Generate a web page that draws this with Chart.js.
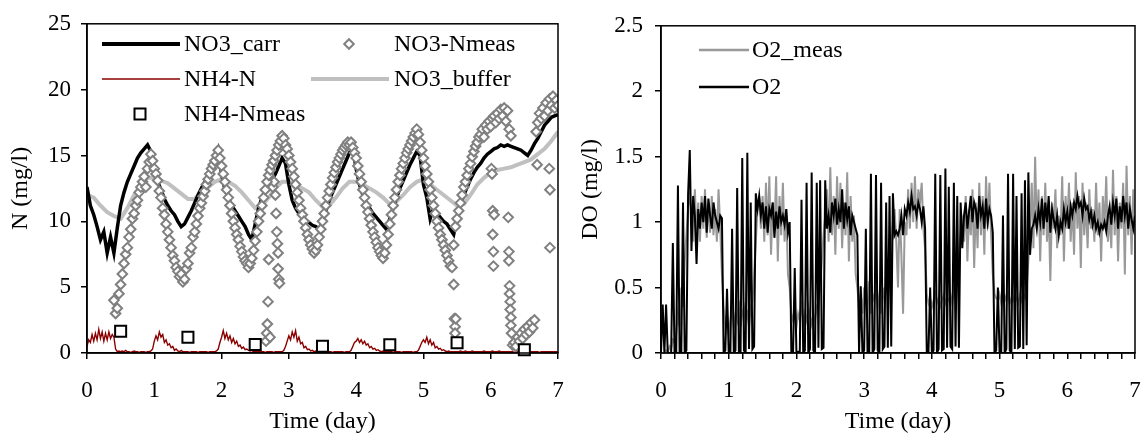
<!DOCTYPE html>
<html>
<head>
<meta charset="utf-8">
<script src="https://cdn.jsdelivr.net/npm/chart.js@4.4.1/dist/chart.umd.min.js"></script>
<style>
  body { margin: 0; background: #fff; }
  #wrap { position: relative; width: 1141px; height: 436px; }
  canvas { position: absolute; top: 0; }
  #left { left: 0; }
  #right { left: 570px; }
</style>
</head>
<body>
<div id="wrap">
  <canvas id="left" width="570" height="436"></canvas>
  <canvas id="right" width="571" height="436"></canvas>
</div>
<script>
// sampling steps (days) of the logged series
var fineStep = 0.025;
var carrStep = 0.05;
var bufferStep = 0.1;

// NO3 in the carrier, every 0.05 day
var no3Carr = [
  12.6, 11.2, 10.5, 9.6, 8.6, 9.2, 7.6, 8.8, 7.6, 9.5, 11.2, 12.2, 13.0, 13.6, 14.2, 14.8, 15.2, 15.5, 15.8, 15.3,
  13.8, 13.0, 12.4, 11.7, 11.2, 10.8, 10.5, 10.0, 9.6, 9.8, 10.3, 10.8, 11.4, 12.0, 12.5, 13.0, 13.4, 14.0, 14.6, 15.4,
  13.6, 12.4, 11.8, 11.2, 10.8, 10.4, 10.0, 9.6, 9.0, 8.6, 9.8, 11.0, 11.8, 12.4, 12.9, 13.2, 13.6, 14.2, 14.8, 14.4,
  12.8, 11.6, 11.0, 10.6, 10.3, 10.1, 9.9, 9.7, 9.6, 9.4, 10.0, 10.8, 11.6, 12.2, 12.8, 13.4, 14.0, 14.6, 15.2, 15.6,
  14.0, 12.8, 12.0, 11.4, 11.0, 10.6, 10.3, 10.0, 9.7, 9.4, 10.2, 11.0, 11.8, 12.5, 13.1, 13.7, 14.3, 14.8, 15.3, 15.0,
  12.8, 11.8, 10.2, 11.0, 10.6, 10.3, 10.0, 9.8, 9.4, 9.0, 10.2, 11.2, 12.0, 12.6, 13.2, 13.7, 14.1, 14.4, 14.8, 15.1,
  15.3, 15.5, 15.6, 15.8, 15.7, 15.8, 15.7, 15.6, 15.5, 15.4, 15.2, 15.0, 15.4, 15.9, 16.3, 16.8, 17.3, 17.6, 17.9, 18.0,
  18.1
];

// NO3 in the buffer tank, every 0.1 day
var no3Buffer = [
  12.0, 11.8, 11.2, 10.7, 10.4, 10.2, 11.0, 12.0, 12.8, 13.3,
  13.3, 13.1, 12.9, 12.5, 12.1, 11.7, 11.7, 12.2, 12.6, 13.0,
  13.2, 13.0, 12.7, 12.2, 11.6, 11.0, 11.2, 11.8, 12.5, 13.0,
  13.0, 12.8, 12.5, 12.2, 11.6, 11.1, 11.2, 11.8, 12.5, 13.0,
  13.0, 12.8, 12.5, 12.2, 11.8, 11.3, 11.5, 12.0, 12.6, 13.0,
  13.2, 12.8, 12.4, 12.0, 11.6, 11.2, 11.3, 12.0, 12.8, 13.3,
  13.7, 13.9, 14.0, 14.1, 14.3, 14.5, 14.7, 15.1, 15.5, 16.1,
  16.8
];

// NH4-N simulated, every 0.025 day
var nh4N = [
  0.5, 1.0, 0.8, 1.4, 0.9, 1.5, 1.0, 1.8, 1.1, 1.6, 0.9, 1.5, 1.0, 1.6, 1.1, 1.4, 1.2, 0.3, 0.1, 0.15,
  0.1, 0.15, 0.1, 0.2, 0.1, 0.1, 0.05, 0.1, 0.15, 0.1, 0.1, 0.05, 0.1, 0.1, 0.1, 0.05, 0.1, 0.1, 0.15, 0.3,
  0.9, 1.3, 1.0, 1.6, 1.2, 1.4, 0.8, 1.0, 0.6, 0.7, 0.4, 0.5, 0.2, 0.3, 0.15, 0.1, 0.2, 0.1, 0.1, 0.1,
  0.1, 0.05, 0.1, 0.1, 0.1, 0.1, 0.05, 0.1, 0.1, 0.1, 0.1, 0.1, 0.05, 0.1, 0.1, 0.1, 0.1, 0.15, 0.3, 0.8,
  1.2, 1.7, 1.1, 1.5, 1.0, 1.3, 0.8, 1.1, 0.7, 0.9, 0.5, 0.6, 0.35, 0.45, 0.25, 0.3, 0.2, 0.15, 0.2, 0.1,
  0.15, 0.1, 0.1, 0.15, 0.1, 0.1, 0.05, 0.1, 0.1, 0.1, 0.1, 0.05, 0.1, 0.1, 0.1, 0.1, 0.1, 0.2, 0.5, 0.9,
  1.3, 1.0, 1.6, 1.2, 1.7, 0.9, 1.2, 0.7, 0.8, 0.4, 0.5, 0.25, 0.3, 0.15, 0.2, 0.1, 0.15, 0.1, 0.1, 0.1,
  0.1, 0.05, 0.1, 0.1, 0.1, 0.1, 0.05, 0.1, 0.1, 0.1, 0.1, 0.1, 0.1, 0.05, 0.1, 0.1, 0.1, 0.2, 0.5, 0.8,
  0.9, 1.1, 0.8, 1.0, 0.7, 0.9, 0.6, 0.7, 0.4, 0.5, 0.3, 0.35, 0.2, 0.25, 0.15, 0.1, 0.15, 0.1, 0.1, 0.1,
  0.1, 0.1, 0.05, 0.1, 0.1, 0.1, 0.1, 0.05, 0.1, 0.1, 0.1, 0.1, 0.1, 0.1, 0.05, 0.1, 0.1, 0.2, 0.5, 0.8,
  1.0, 0.8, 1.2, 0.7, 1.0, 0.6, 0.8, 0.4, 0.5, 0.3, 0.35, 0.2, 0.25, 0.15, 0.1, 0.15, 0.1, 0.1, 0.1, 0.1,
  0.1, 0.1, 0.15, 0.1, 0.1, 0.15, 0.1, 0.1, 0.1, 0.15, 0.1, 0.1, 0.1, 0.1, 0.1, 0.1, 0.15, 0.1, 0.1, 0.1,
  0.1, 0.15, 0.1, 0.1, 0.1, 0.15, 0.1, 0.1, 0.1, 0.1, 0.1, 0.1, 0.1, 0.1, 0.05, 0.1, 0.1, 0.1, 0.1, 0.1,
  0.1, 0.1, 0.1, 0.05, 0.1, 0.1, 0.1, 0.1, 0.1, 0.05, 0.1, 0.1, 0.1, 0.1, 0.1, 0.1, 0.1, 0.1, 0.1, 0.1,
  0.1
];

// NO3-N measured online, every 0.025 day (null = no reading)
var no3Meas = [
  null, null, null, null, null, null, null, null, null, null, null, null, null, null, null, null, 4.0, 3.0, 3.4, 4.5,
  5.2, 6.0, 6.8, 7.5, 8.0, 8.8, 9.4, 10.2, 10.6, 11.2, 11.6, 12.2, 12.6, 13.0, 13.4, 12.6, 14.0, 14.5, 15.1, 14.6,
  14.0, 13.6, 13.1, 12.3, 11.8, 11.0, 10.5, 9.8, 9.2, 8.6, 8.0, 7.4, 7.0, 6.5, 6.2, 5.8, 6.0, 5.4, 5.6, 6.4,
  6.8, 7.6, 8.0, 8.8, 9.2, 9.8, 10.4, 11.0, 11.4, 11.9, 12.3, 12.8, 13.2, 13.6, 14.0, 14.3, 14.6, 15.0, 15.4, 14.8,
  14.2, 13.6, 13.0, 12.4, 11.8, 11.2, 10.6, 10.0, 9.5, 9.0, 8.6, 8.1, 7.7, 7.3, 7.0, 6.8, 6.5, 6.8, 7.2, 7.8,
  8.5, 9.2, 10.0, 10.6, 11.2, 11.8, 12.4, 13.0, 13.5, 13.9, 14.3, 14.6, 15.0, 15.4, 15.8, 16.1, 16.5, 16.3, 15.8, 15.5,
  15.0, 14.5, 14.0, 13.4, 12.8, 12.2, 11.6, 11.0, 10.5, 10.0, 9.5, 9.0, 8.6, 8.2, 7.9, 7.6, 7.8, 8.2, 8.8, 9.4,
  10.0, 10.6, 11.2, 11.8, 12.3, 12.8, 13.3, 13.7, 14.1, 14.5, 14.8, 15.1, 15.4, 15.6, 15.8, 16.0, 15.8, 16.0, 15.6, 15.2,
  14.8, 14.2, 13.6, 13.0, 12.4, 11.8, 11.2, 10.7, 10.2, 9.7, 9.2, 8.8, 8.4, 8.0, 7.7, 7.4, 7.2, 7.6, 8.2, 9.0,
  9.8, 10.5, 11.2, 11.8, 12.4, 13.0, 13.5, 14.0, 14.4, 14.8, 15.2, 15.5, 15.8, 16.1, 16.4, 16.7, 17.0, 16.6, 16.0, 15.4,
  14.8, 14.2, 13.6, 13.0, 12.4, 11.8, 11.2, 10.6, 10.0, 9.5, 9.0, 8.6, 8.2, 7.8, 7.4, 7.0, 6.6, 6.5, 8.2, 9.6,
  10.2, 10.8, 11.4, 12.0, 12.6, 13.0, 13.5, 14.0, 14.4, 14.9, 15.3, 15.7, 16.0, 16.4, 16.6, 17.0, 16.4, 17.3, 17.0, 17.6,
  17.2, 17.8, 18.0, 17.5, 18.2, 17.8, 18.5, 18.0, 18.6, 17.6, 18.4, 17.0, 16.5, 0.6, 0.8, 0.5, 1.2, 0.9, 1.5, 1.1,
  1.8, 1.4, 2.0, 1.6, 2.3, 1.9, 2.5, 16.8, 17.5, 18.2, 17.8, 18.6, 18.0, 19.0, 18.4, 19.3, 18.8, 19.5, 18.6, 19.2,
  18.8
];

// scattered NO3-N readings off the main trend
var no3OutT = [2.66, 2.67, 2.68, 2.69, 2.70, 2.72, 2.76, 2.78, 2.80, 2.81, 2.82, 2.83, 2.84, 2.84, 2.85, 2.86,
  5.45, 5.46, 5.47, 5.47, 5.48, 6.01, 6.02, 6.03, 6.03, 6.04, 6.04, 6.05,
  6.26, 6.27, 6.27, 6.28, 6.28, 6.29, 6.29, 6.30, 6.30, 6.31, 6.69, 6.87, 6.88, 6.88];
var no3OutVal = [0.9, 1.5, 2.2, 3.9, 7.1, 1.2, 12.6, 13.0, 12.0, 10.6, 9.2, 8.3, 7.6, 6.4, 5.6, 5.3,
  5.2, 2.6, 2.0, 1.5, 2.6, 14.0, 13.6, 10.8, 9.0, 7.7, 6.6, 10.5,
  10.3, 7.7, 7.0, 5.1, 4.5, 3.9, 3.3, 2.7, 2.1, 1.5, 14.3, 14.0, 12.4, 8.0];

// NH4-N grab samples
var nh4MeasT = [0.5, 1.5, 2.5, 3.5, 4.5, 5.5, 6.5];
var nh4MeasVal = [1.65, 1.2, 0.64, 0.52, 0.63, 0.78, 0.24];

// dissolved oxygen, simulated, every 0.025 day
var o2 = [
  0.0, 0.37, 0.0, 0.37, 0.0, 0.0, 0.0, 0.84, 0.0, 0.0, 1.28, 0.0, 0.0, 1.15, 0.0, 0.02, 1.21, 1.55, 0.78, 1.2,
  1.05, 0.68, 1.1, 0.95, 1.15, 1.0, 1.2, 0.92, 1.18, 1.05, 0.95, 1.15, 1.05, 1.0, 0.95, 1.05, 1.03, 0.0, 0.02, 0.49,
  0.0, 0.01, 0.95, 0.0, 0.02, 1.26, 0.01, 0.0, 1.49, 0.02, 0.0, 1.53, 0.03, 1.15, 0.03, 0.05, 1.22, 1.1, 1.2, 1.05,
  1.15, 0.95, 1.12, 0.92, 1.1, 1.05, 1.15, 0.88, 1.08, 0.95, 1.12, 1.0, 1.05, 0.98, 1.1, 0.92, 1.0, 0.0, 0.0, 0.65,
  0.0, 0.01, 0.0, 1.17, 0.0, 0.02, 1.3, 0.0, 0.03, 1.38, 0.02, 0.0, 1.3, 0.04, 1.32, 0.03, 0.04, 1.32, 0.95, 1.05,
  0.92, 1.15, 1.05, 1.18, 0.98, 1.1, 1.0, 1.25, 0.95, 1.15, 1.02, 1.12, 0.9, 1.05, 1.0, 0.95, 0.9, 0.0, 0.51, 0.0,
  0.02, 0.95, 0.0, 0.01, 1.37, 0.0, 0.03, 1.36, 0.02, 0.0, 1.3, 0.03, 0.05, 1.15, 0.04, 1.2, 0.05, 1.22, 0.9, 0.93,
  0.9, 0.95, 1.05, 0.9, 1.1, 1.05, 1.15, 1.08, 1.2, 1.1, 1.12, 1.05, 1.15, 1.1, 1.0, 1.12, 0.95, 0.0, 0.01, 0.5,
  0.0, 0.02, 1.37, 0.0, 0.03, 1.36, 0.02, 0.03, 1.41, 0.04, 1.27, 0.05, 0.03, 1.3, 0.05, 1.2, 0.04, 1.15, 0.8, 1.05,
  1.15, 0.95, 1.08, 1.2, 1.0, 1.15, 1.1, 0.95, 1.2, 1.05, 1.12, 0.95, 1.18, 1.0, 1.1, 1.05, 0.92, 0.0, 0.02, 0.5,
  0.0, 0.01, 1.05, 0.0, 0.03, 1.37, 0.02, 0.0, 1.37, 0.03, 1.2, 0.04, 0.05, 1.22, 0.03, 1.32, 0.06, 1.38, 0.75, 0.95,
  0.98, 1.05, 0.95, 1.1, 1.0, 1.18, 0.95, 1.15, 1.0, 1.2, 0.92, 1.1, 1.02, 0.95, 1.05, 0.9, 1.0, 0.95, 1.1, 1.0,
  1.08, 0.95, 1.12, 1.05, 1.15, 1.1, 1.2, 1.12, 1.15, 1.05, 1.18, 1.1, 1.12, 1.02, 1.08, 0.98, 1.05, 0.95, 1.0, 0.92,
  0.98, 0.95, 1.0, 0.93, 1.05, 1.12, 0.98, 1.15, 1.05, 1.18, 0.95, 1.12, 1.0, 1.2, 1.05, 1.15, 0.95, 1.1, 1.02, 0.95,
  1.05
];

// dissolved oxygen, probe readings, every 0.025 day
var o2Meas = [
  0, 0, 0, 0.02, 0, 0.05, 0.03, 0.1, 0.08, 0.15, 0.3, 0.2, 0.5, 0.35, 0.7, 0.9, 1.1, 1.2, 1.1, 0.85,
  1.25, 0.9, 1.15, 0.85, 1.2, 0.95, 1.25, 0.88, 1.15, 0.92, 1.2, 0.9, 1.1, 0.85, 1.25, 0.95, 0.6, 0.35, 0.2, 0.3,
  0.15, 0.25, 0.35, 0.2, 0.3, 0.25, 0.4, 0.2, 0.3, 0.35, 0.25, 0.3, 0.2, 0.35, 0.4, 0.6, 0.85, 1.1, 1.2, 0.95,
  1.2, 0.85, 1.3, 0.9, 1.35, 0.75, 1.15, 0.95, 1.35, 0.7, 1.2, 0.9, 1.3, 0.85, 1.1, 0.6, 0.5, 0.3, 0.25, 0.35,
  0.2, 0.3, 0.25, 0.4, 0.2, 0.3, 0.25, 0.35, 0.28, 0.22, 0.3, 0.25, 0.35, 0.4, 0.5, 0.7, 0.9, 1.05, 1.25, 0.85,
  1.42, 0.9, 1.2, 0.75, 1.35, 0.95, 1.3, 0.8, 1.15, 0.9, 1.38, 0.7, 1.2, 0.85, 1.05, 0.6, 0.5, 0.35, 0.45, 0.3,
  0.5, 0.4, 0.35, 0.55, 0.3, 0.45, 0.4, 0.5, 0.35, 0.45, 0.3, 0.5, 0.4, 0.55, 0.45, 0.6, 0.8, 1.0, 1.1, 0.85,
  0.5, 1.1, 0.75, 0.3, 1.0, 0.9, 1.25, 0.95, 1.3, 1.0, 1.35, 0.95, 1.25, 1.15, 1.3, 0.95, 0.8, 0.45, 0.38, 0.42,
  0.35, 0.4, 0.45, 0.38, 0.42, 0.36, 0.4, 0.44, 0.38, 0.42, 0.4, 0.45, 0.38, 0.5, 0.45, 0.6, 0.75, 0.9, 1.0, 0.85,
  1.2, 0.7, 1.1, 0.9, 1.25, 0.65, 1.15, 0.8, 1.3, 0.9, 1.2, 0.75, 1.35, 0.95, 1.3, 0.9, 0.6, 0.45, 0.42, 0.4,
  0.45, 0.38, 0.42, 0.44, 0.4, 0.45, 0.38, 0.42, 0.4, 0.45, 0.42, 0.38, 0.44, 0.4, 0.45, 0.42, 0.5, 0.7, 0.95, 1.3,
  0.8, 1.5, 0.95, 1.25, 0.7, 1.2, 0.9, 1.3, 0.85, 1.1, 0.55, 1.15, 0.95, 1.25, 0.8, 1.05, 0.9, 1.35, 0.7, 1.2,
  0.95, 1.3, 0.85, 1.15, 0.75, 1.38, 0.95, 1.2, 0.65, 1.3, 0.9, 1.15, 0.8, 1.25, 0.95, 1.1, 0.85, 1.3, 0.9, 1.15,
  0.7, 1.2, 0.95, 1.35, 0.85, 1.05, 0.8, 1.4, 0.9, 1.2, 0.7, 1.15, 0.95, 1.3, 0.6, 1.43, 0.9, 1.2, 0.75, 1.25,
  0.9
];

var serif = '"Liberation Serif", "Times New Roman", serif';

// pair a regularly sampled series with its time stamps
function onGrid(vals, step) {
  var pts = [];
  vals.forEach(function (v, i) {
    if (v !== null) pts.push({ x: Math.round(i * step * 1000) / 1000, y: v });
  });
  return pts;
}
function pairs(ts, vs) {
  return ts.map(function (t, i) { return { x: t, y: vs[i] }; });
}

// box around the plot area
var frame = {
  id: 'frame',
  afterDatasetsDraw: function (chart) {
    var a = chart.chartArea, ctx = chart.ctx;
    ctx.save();
    ctx.strokeStyle = '#000';
    ctx.lineWidth = 1.5;
    ctx.strokeRect(a.left, a.top, a.right - a.left, a.bottom - a.top);
    ctx.restore();
  }
};

// hand placed legend inside the plot
var boxLegend = {
  id: 'boxLegend',
  afterDraw: function (chart, args, opts) {
    var ctx = chart.ctx;
    ctx.save();
    opts.items.forEach(function (it) {
      ctx.strokeStyle = it.color;
      ctx.fillStyle = '#fff';
      if (it.kind === 'line') {
        ctx.lineWidth = it.width;
        ctx.beginPath();
        ctx.moveTo(it.x1, it.y);
        ctx.lineTo(it.x2, it.y);
        ctx.stroke();
      } else if (it.kind === 'diamond') {
        ctx.lineWidth = 2;
        ctx.beginPath();
        ctx.moveTo(it.cx, it.y - 4.8);
        ctx.lineTo(it.cx + 4.8, it.y);
        ctx.lineTo(it.cx, it.y + 4.8);
        ctx.lineTo(it.cx - 4.8, it.y);
        ctx.closePath();
        ctx.fill();
        ctx.stroke();
      } else if (it.kind === 'square') {
        ctx.lineWidth = 2;
        ctx.fillRect(it.cx - 5.5, it.y - 5.5, 11, 11);
        ctx.strokeRect(it.cx - 5.5, it.y - 5.5, 11, 11);
      }
      ctx.fillStyle = '#000';
      ctx.font = '24px ' + serif;
      ctx.textBaseline = 'middle';
      ctx.textAlign = 'left';
      ctx.fillText(it.label, it.tx, it.y + 1);
    });
    ctx.restore();
  }
};

// tall line box pushes the day labels down without widening the side padding
function xAxis(stepSize) {
  return {
    type: 'linear', min: 0, max: 7,
    ticks: {
      stepSize: stepSize, autoSkip: false, maxRotation: 0, color: '#000', padding: 0,
      font: { family: serif, size: 23, lineHeight: 2.74 },
      callback: function (v) {
        return Math.abs(v - Math.round(v)) < 1e-6 ? String(Math.round(v)) : '';
      }
    },
    grid: { drawOnChartArea: false, tickLength: 6, color: '#000', lineWidth: 1.5 },
    border: { color: '#000', width: 1.5 },
    title: { display: true, text: 'Time (day)', color: '#000', font: { family: serif, size: 24 }, padding: { top: 0, bottom: 0 } },
    afterFit: function (s) { s.height = 83; }
  };
}

function yAxis(max, stepSize, title, width, pad) {
  return {
    min: 0, max: max,
    ticks: {
      stepSize: stepSize, color: '#000', padding: pad,
      font: { family: serif, size: 23 },
      callback: function (v) { return String(Math.round(v * 10) / 10); }
    },
    grid: { drawOnChartArea: false, tickLength: 6, color: '#000', lineWidth: 1.5 },
    border: { color: '#000', width: 1.5 },
    title: { display: true, text: title, color: '#000', font: { family: serif, size: 24 }, padding: { top: 6, bottom: 0 } },
    afterFit: function (s) { s.width = width; }
  };
}

var diamondStyle = {
  showLine: false, pointStyle: 'rectRot', pointRadius: 4.8, pointBorderWidth: 2,
  pointBorderColor: '#808080', pointBackgroundColor: '#fff', order: 1
};

new Chart(document.getElementById('left'), {
  type: 'line',
  data: {
    datasets: [
      {
        label: 'NH4-Nmeas', data: pairs(nh4MeasT, nh4MeasVal), showLine: false,
        pointStyle: 'rect', pointRadius: 7.8, pointBorderWidth: 2,
        pointBorderColor: '#000', pointBackgroundColor: '#fff', clip: false, order: 0
      },
      Object.assign({ label: 'NO3-Nmeas', data: onGrid(no3Meas, fineStep) }, diamondStyle),
      Object.assign({ label: 'NO3-Nmeas scatter', data: pairs(no3OutT, no3OutVal) }, diamondStyle),
      {
        label: 'NH4-N', data: onGrid(nh4N, fineStep), borderColor: '#8B0000',
        borderWidth: 1.4, pointRadius: 0, order: 2
      },
      {
        label: 'NO3_carr', data: onGrid(no3Carr, carrStep), borderColor: '#000',
        borderWidth: 3.5, pointRadius: 0, order: 3
      },
      {
        label: 'NO3_buffer', data: onGrid(no3Buffer, bufferStep), borderColor: '#C0C0C0',
        borderWidth: 4, pointRadius: 0, order: 4
      }
    ]
  },
  options: {
    responsive: false,
    animation: false,
    layout: { padding: { left: 0, right: 12, top: 21, bottom: 0 } },
    scales: {
      x: xAxis(1),
      y: yAxis(25, 5, 'N (mg/l)', 87, 10)
    },
    plugins: {
      legend: { display: false },
      tooltip: { enabled: false },
      boxLegend: {
        items: [
          { kind: 'line', x1: 102, x2: 180, y: 44, width: 4, color: '#000', tx: 184, label: 'NO3_carr' },
          { kind: 'diamond', cx: 349, y: 44, color: '#808080', tx: 394, label: 'NO3-Nmeas' },
          { kind: 'line', x1: 102, x2: 180, y: 79, width: 1.5, color: '#8B0000', tx: 184, label: 'NH4-N' },
          { kind: 'line', x1: 311, x2: 389, y: 79, width: 4, color: '#C0C0C0', tx: 394, label: 'NO3_buffer' },
          { kind: 'square', cx: 140, y: 114, color: '#000', tx: 184, label: 'NH4-Nmeas' }
        ]
      }
    }
  },
  plugins: [frame, boxLegend]
});

new Chart(document.getElementById('right'), {
  type: 'line',
  data: {
    datasets: [
      {
        label: 'O2', data: onGrid(o2, fineStep), borderColor: '#000',
        borderWidth: 2, pointRadius: 0, order: 0
      },
      {
        label: 'O2_meas', data: onGrid(o2Meas, fineStep), borderColor: '#999999',
        borderWidth: 2, pointRadius: 0, order: 1
      }
    ]
  },
  options: {
    responsive: false,
    animation: false,
    layout: { padding: { left: 0, right: 6, top: 21, bottom: 0 } },
    scales: {
      x: xAxis(0.2),
      y: yAxis(2.5, 0.5, 'DO (mg/l)', 91, 12)
    },
    plugins: {
      legend: { display: false },
      tooltip: { enabled: false },
      boxLegend: {
        items: [
          { kind: 'line', x1: 129, x2: 179, y: 50, width: 2.5, color: '#999999', tx: 182, label: 'O2_meas' },
          { kind: 'line', x1: 129, x2: 179, y: 87, width: 2.5, color: '#000', tx: 182, label: 'O2' }
        ]
      }
    }
  },
  plugins: [frame, boxLegend]
});
</script>
</body>
</html>
